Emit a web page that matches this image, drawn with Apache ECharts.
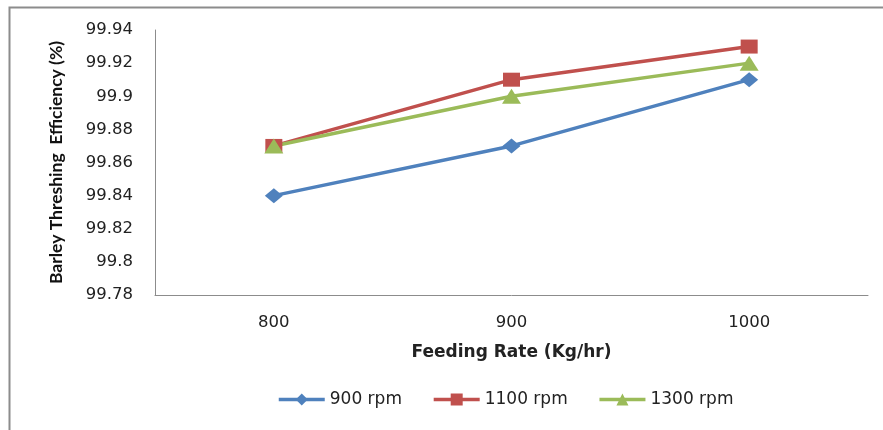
<!DOCTYPE html>
<html><head><meta charset="utf-8">
<script src="https://cdn.jsdelivr.net/npm/echarts@6/dist/echarts.min.js"></script>
<style>html,body{margin:0;padding:0;background:#fff}#c{width:883px;height:430px}</style>
</head><body><div id="c"></div>
<script>
const categories = ['800', '900', '1000'];
const s900 = [99.84, 99.87, 99.91];
const s1100 = [99.87, 99.91, 99.93];
const s1300 = [99.87, 99.90, 99.92];
const seriesNames = ['900 rpm', '1100 rpm', '1300 rpm'];

const chart = echarts.init(document.getElementById('c'), null, {renderer: 'canvas'});
const lbl = {fontFamily: 'DejaVu Sans', fontSize: 16.5, color: '#222'};
chart.setOption({
  animation: false,
  graphic: [{type: 'rect', shape: {x: 9.5, y: 7.5, width: 1000, height: 1000},
    style: {fill: 'none', stroke: '#8c8c8c', lineWidth: 2}, z: -1}],
  grid: {left: 155, right: 15, top: 30, bottom: 135},
  xAxis: {type: 'category', data: categories, boundaryGap: true,
    axisLine: {lineStyle: {color: '#8c8c8c', width: 1}}, axisTick: {show: false},
    axisLabel: Object.assign({margin: 19}, lbl),
    name: 'Feeding Rate (Kg/hr)', nameLocation: 'middle', nameGap: 49,
    nameTextStyle: {fontFamily: 'DejaVu Sans', fontWeight: 'bold', fontSize: 17, color: '#222'}},
  yAxis: {type: 'value', min: 99.78, max: 99.94, interval: 0.02,
    axisLine: {show: true, lineStyle: {color: '#8c8c8c', width: 1}}, axisTick: {show: false},
    splitLine: {show: false},
    axisLabel: Object.assign({margin: 22, formatter: v => String(parseFloat(v.toFixed(2)))}, lbl),
    name: 'Barley Threshing  Efficiency (%)', nameLocation: 'middle', nameGap: 90, nameRotate: 90,
    nameTextStyle: {fontFamily: 'Liberation Sans Narrow, Lato', fontWeight: 'bold', fontSize: 17.5, color: '#111'}},
  legend: {bottom: 17, left: 272, itemWidth: 46, itemHeight: 15, itemGap: 30,
    lineStyle: {width: 3.5},
    textStyle: {fontFamily: 'DejaVu Sans', fontSize: 17, color: '#222'}, data: seriesNames},
  series: [
    {name: seriesNames[0], type: 'line', data: s900, symbol: 'diamond', symbolSize: [18, 15],
      itemStyle: {color: '#4F81BD'}, lineStyle: {width: 3.5}},
    {name: seriesNames[1], type: 'line', data: s1100, symbol: 'rect', symbolSize: [17, 14],
      itemStyle: {color: '#C0504D'}, lineStyle: {width: 3.5}},
    {name: seriesNames[2], type: 'line', data: s1300, symbol: 'triangle', symbolSize: [19, 15],
      itemStyle: {color: '#9BBB59'}, lineStyle: {width: 3.5}}
  ]
});
</script></body></html>
